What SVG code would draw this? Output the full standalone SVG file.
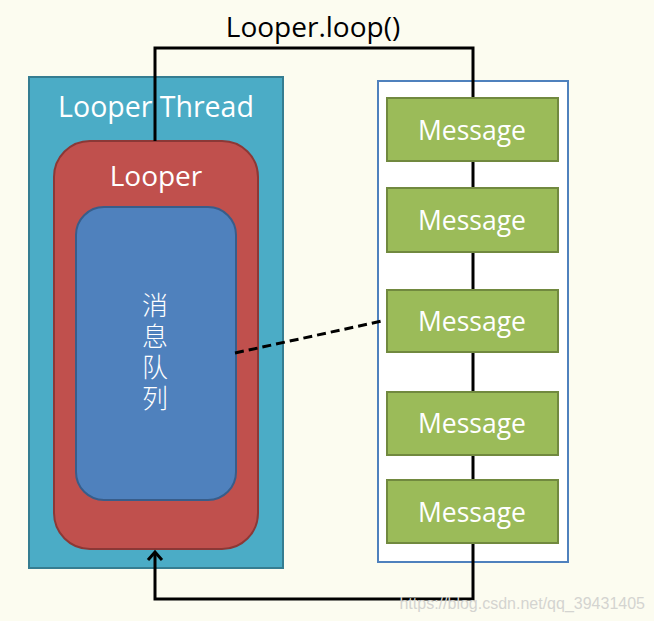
<svg xmlns="http://www.w3.org/2000/svg" width="654" height="621" viewBox="0 0 654 621">
<defs>
<style>
.lbl{font-family:"Open Sans","Liberation Sans",sans-serif;fill:#ffffff;text-anchor:middle}
.msg rect{fill:#9BBB59;stroke:#71893F;stroke-width:2}
.conn{fill:none;stroke:#000000;stroke-width:3}
</style>
<marker id="arr" viewBox="0 0 18 18" refX="10" refY="9" markerWidth="18" markerHeight="18" markerUnits="userSpaceOnUse" orient="auto">
<path d="M2,2 L10,9 L2,16" fill="none" stroke="#000" stroke-width="3"/>
</marker>
</defs>
<rect width="654" height="621" fill="#FCFCF0"/>
<g id="thread">
<rect x="29" y="77" width="254" height="491" fill="#4BACC6" stroke="#357D91" stroke-width="2"/>
<text class="lbl" x="156" y="117" font-size="28.5">Looper Thread</text>
</g>
<g id="looper">
<rect x="54" y="141" width="204" height="408" rx="36" fill="#C0504D" stroke="#8C3836" stroke-width="2"/>
<text class="lbl" x="156" y="186" font-size="28">Looper</text>
</g>
<g id="queue">
<rect x="76" y="207" width="160" height="293" rx="28" fill="#4F81BD" stroke="#385D8A" stroke-width="2"/>
<text x="155" y="292" font-family="'Noto Sans CJK SC',sans-serif" font-size="26" fill="#ffffff" font-weight="300" style="writing-mode:vertical-rl;text-orientation:upright;letter-spacing:5px">消息队列</text>
</g>
<g id="list">
<rect x="378" y="81" width="190" height="481" fill="#ffffff" stroke="#4F81BD" stroke-width="2"/>
</g>
<g id="connectors">
<polyline class="conn" points="155,141 155,48 473,48 473,98"/>
<line class="conn" x1="473" y1="161" x2="473" y2="188"/>
<line class="conn" x1="473" y1="252" x2="473" y2="290"/>
<line class="conn" x1="473" y1="352" x2="473" y2="392"/>
<line class="conn" x1="473" y1="455" x2="473" y2="480"/>
<polyline class="conn" points="473,543 473,599 155,599 155,552" marker-end="url(#arr)"/>
<line x1="235" y1="353" x2="382" y2="321" stroke="#000" stroke-width="3" stroke-dasharray="9,5"/>
</g>
<g id="m1" class="msg"><rect x="387" y="98" width="171" height="63"/><text class="lbl" x="472" y="140" font-size="26.5">Message</text></g>
<g id="m2" class="msg"><rect x="387" y="188" width="171" height="64"/><text class="lbl" x="472" y="230" font-size="26.5">Message</text></g>
<g id="m3" class="msg"><rect x="387" y="290" width="171" height="62"/><text class="lbl" x="472" y="331" font-size="26.5">Message</text></g>
<g id="m4" class="msg"><rect x="387" y="392" width="171" height="63"/><text class="lbl" x="472" y="433" font-size="26.5">Message</text></g>
<g id="m5" class="msg"><rect x="387" y="480" width="171" height="63"/><text class="lbl" x="472" y="522" font-size="26.5">Message</text></g>
<text x="313" y="37" font-family="'Open Sans','Liberation Sans',sans-serif" font-size="28" text-anchor="middle" fill="#000">Looper.loop()</text>
<text x="645" y="609" font-family="'Liberation Sans',sans-serif" font-size="16" text-anchor="end" fill="#D4D4D0">https://blog.csdn.net/qq_39431405</text>
</svg>
